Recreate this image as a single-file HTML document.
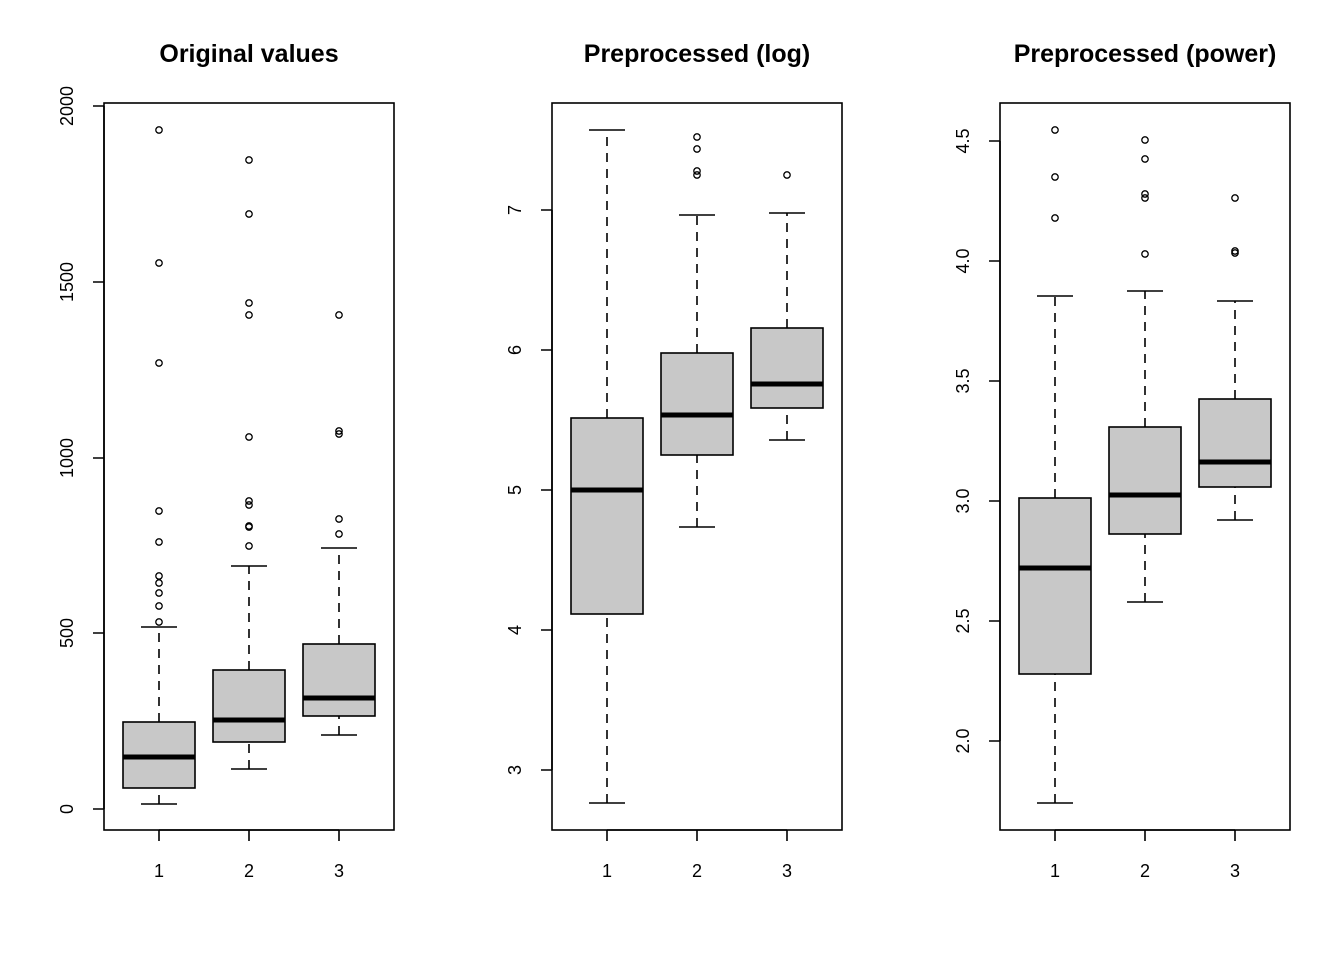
<!DOCTYPE html>
<html><head><meta charset="utf-8"><style>body{margin:0;background:#fff}svg{display:block}text{font-family:"Liberation Sans",Arial,sans-serif;fill:#000}</style></head>
<body>
<svg width="1344" height="960" viewBox="0 0 1344 960" xmlns="http://www.w3.org/2000/svg">
<g stroke="#000" stroke-width="1.6" fill="none">
<rect x="104" y="103" width="290" height="727"/>
<path d="M104 106V809 M93 809H104 M93 633H104 M93 458H104 M93 282H104 M93 106H104"/>
<path d="M159 830V841 M249 830V841 M339 830V841 M159 830H339"/>
<g stroke-dasharray="9,7"><path d="M159 804V788 M159 722V627 M249 769V742 M249 670V566 M339 735V716 M339 644V548"/></g>
<path d="M141 804H177 M141 627H177 M231 769H267 M231 566H267 M321 735H357 M321 548H357"/>
<rect x="123" y="722" width="72" height="66" fill="#c8c8c8"/>
<rect x="213" y="670" width="72" height="72" fill="#c8c8c8"/>
<rect x="303" y="644" width="72" height="72" fill="#c8c8c8"/>
<path d="M123 757H195 M213 720H285 M303 698H375" stroke-width="5"/>
<g stroke-width="1.3"><circle cx="159" cy="130" r="3.2"/><circle cx="159" cy="263" r="3.2"/><circle cx="159" cy="363" r="3.2"/><circle cx="159" cy="511" r="3.2"/><circle cx="159" cy="542" r="3.2"/><circle cx="159" cy="576" r="3.2"/><circle cx="159" cy="583" r="3.2"/><circle cx="159" cy="593" r="3.2"/><circle cx="159" cy="606" r="3.2"/><circle cx="159" cy="622" r="3.2"/>
<circle cx="249" cy="160" r="3.2"/><circle cx="249" cy="214" r="3.2"/><circle cx="249" cy="303" r="3.2"/><circle cx="249" cy="315" r="3.2"/><circle cx="249" cy="437" r="3.2"/><circle cx="249" cy="501" r="3.2"/><circle cx="249" cy="505" r="3.2"/><circle cx="249" cy="526" r="3.2"/><circle cx="249" cy="527" r="3.2"/><circle cx="249" cy="546" r="3.2"/>
<circle cx="339" cy="315" r="3.2"/><circle cx="339" cy="431" r="3.2"/><circle cx="339" cy="434" r="3.2"/><circle cx="339" cy="519" r="3.2"/><circle cx="339" cy="534" r="3.2"/></g>
<rect x="552" y="103" width="290" height="727"/>
<path d="M552 210V770 M541 770H552 M541 630H552 M541 490H552 M541 350H552 M541 210H552"/>
<path d="M607 830V841 M697 830V841 M787 830V841 M607 830H787"/>
<g stroke-dasharray="9,7"><path d="M607 803V614 M607 418V130 M697 527V455 M697 353V215 M787 440V408 M787 328V213"/></g>
<path d="M589 803H625 M589 130H625 M679 527H715 M679 215H715 M769 440H805 M769 213H805"/>
<rect x="571" y="418" width="72" height="196" fill="#c8c8c8"/>
<rect x="661" y="353" width="72" height="102" fill="#c8c8c8"/>
<rect x="751" y="328" width="72" height="80" fill="#c8c8c8"/>
<path d="M571 490H643 M661 415H733 M751 384H823" stroke-width="5"/>
<g stroke-width="1.3"><circle cx="697" cy="137" r="3.2"/><circle cx="697" cy="149" r="3.2"/><circle cx="697" cy="171" r="3.2"/><circle cx="697" cy="175" r="3.2"/><circle cx="787" cy="175" r="3.2"/></g>
<rect x="1000" y="103" width="290" height="727"/>
<path d="M1000 141V741 M989 741H1000 M989 621H1000 M989 501H1000 M989 381H1000 M989 261H1000 M989 141H1000"/>
<path d="M1055 830V841 M1145 830V841 M1235 830V841 M1055 830H1235"/>
<g stroke-dasharray="9,7"><path d="M1055 803V674 M1055 498V296 M1145 602V534 M1145 427V291 M1235 520V487 M1235 399V301"/></g>
<path d="M1037 803H1073 M1037 296H1073 M1127 602H1163 M1127 291H1163 M1217 520H1253 M1217 301H1253"/>
<rect x="1019" y="498" width="72" height="176" fill="#c8c8c8"/>
<rect x="1109" y="427" width="72" height="107" fill="#c8c8c8"/>
<rect x="1199" y="399" width="72" height="88" fill="#c8c8c8"/>
<path d="M1019 568H1091 M1109 495H1181 M1199 462H1271" stroke-width="5"/>
<g stroke-width="1.3"><circle cx="1055" cy="130" r="3.2"/><circle cx="1055" cy="177" r="3.2"/><circle cx="1055" cy="218" r="3.2"/><circle cx="1145" cy="140" r="3.2"/><circle cx="1145" cy="159" r="3.2"/><circle cx="1145" cy="194" r="3.2"/><circle cx="1145" cy="198" r="3.2"/><circle cx="1145" cy="254" r="3.2"/><circle cx="1235" cy="198" r="3.2"/><circle cx="1235" cy="251" r="3.2"/><circle cx="1235" cy="253" r="3.2"/></g>
</g>
<g font-size="25" font-weight="bold" text-anchor="middle">
<text x="249" y="62">Original values</text>
<text x="697" y="62">Preprocessed (log)</text>
<text x="1145" y="62">Preprocessed (power)</text>
</g>
<g font-size="18" text-anchor="middle">
<text x="159" y="877">1</text><text x="249" y="877">2</text><text x="339" y="877">3</text>
<text x="607" y="877">1</text><text x="697" y="877">2</text><text x="787" y="877">3</text>
<text x="1055" y="877">1</text><text x="1145" y="877">2</text><text x="1235" y="877">3</text>
<text transform="translate(73,809) rotate(-90)">0</text>
<text transform="translate(73,633) rotate(-90)">500</text>
<text transform="translate(73,458) rotate(-90)">1000</text>
<text transform="translate(73,282) rotate(-90)">1500</text>
<text transform="translate(73,106) rotate(-90)">2000</text>
<text transform="translate(521,770) rotate(-90)">3</text>
<text transform="translate(521,630) rotate(-90)">4</text>
<text transform="translate(521,490) rotate(-90)">5</text>
<text transform="translate(521,350) rotate(-90)">6</text>
<text transform="translate(521,210) rotate(-90)">7</text>
<text transform="translate(969,741) rotate(-90)">2.0</text>
<text transform="translate(969,621) rotate(-90)">2.5</text>
<text transform="translate(969,501) rotate(-90)">3.0</text>
<text transform="translate(969,381) rotate(-90)">3.5</text>
<text transform="translate(969,261) rotate(-90)">4.0</text>
<text transform="translate(969,141) rotate(-90)">4.5</text>
</g>
</svg>
</body></html>
